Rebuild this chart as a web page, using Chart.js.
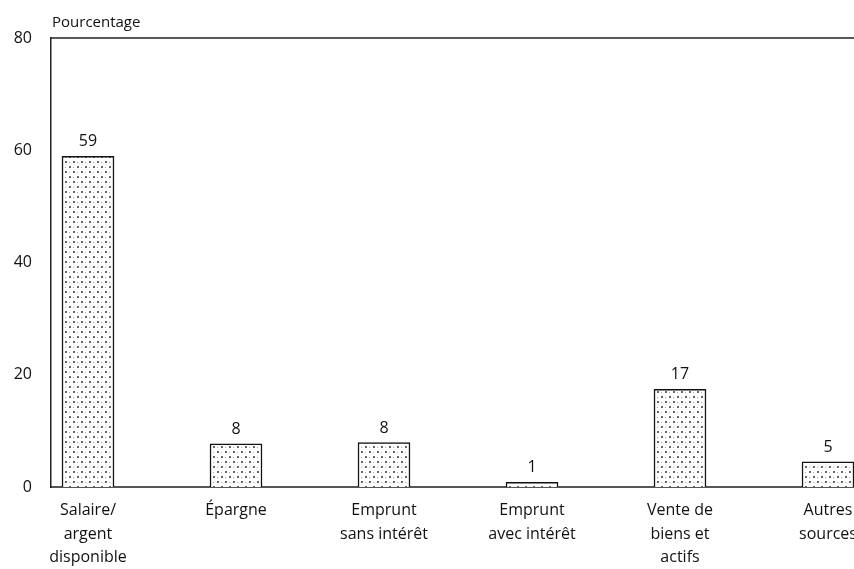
<!DOCTYPE html>
<html lang="fr">
<head>
  <meta charset="UTF-8" />
  <title>Pourcentage</title>
  <script src="https://cdn.jsdelivr.net/npm/chart.js"></script>
  <style>
    html, body {
      margin: 0;
      padding: 0;
      background: white;
      overflow: hidden;
    }
    .box {
      width: 900px;
      height: 569px;
    }
  </style>
</head>
<body>
  <div class="box">
    <canvas id="chart" width="900" height="569"></canvas>
  </div>

  <script>
    const categories = [
      ["Salaire/", "argent", "disponible"],
      ["Épargne"],
      ["Emprunt", "sans intérêt"],
      ["Emprunt", "avec intérêt"],
      ["Vente de", "biens et", "actifs"],
      ["Autres", "sources"]
    ];
    const values = [58.9, 7.7, 7.9, 0.85, 17.4, 4.5];
    const valueLabels = ["59", "8", "8", "1", "17", "5"];
    const yTicks = [0, 20, 40, 60, 80];

    const fontFamily = "'Open Sans', 'DejaVu Sans', sans-serif";

    // motif pointillé des barres (points décalés)
    function dotPattern() {
      const c = document.createElement("canvas");
      c.width = 8; c.height = 10;
      const g = c.getContext("2d");
      g.fillStyle = "white";
      g.fillRect(0, 0, 8, 10);
      g.fillStyle = "#666";
      g.fillRect(1, 1, 2, 2);
      g.fillRect(5, 6, 2, 2);
      g.fillStyle = "#aaa";
      g.fillRect(5, 2, 1, 1);
      g.fillRect(1, 7, 1, 1);
      return g.createPattern(c, "repeat");
    }

    const extras = {
      id: "extras",
      afterDraw(chart) {
        const ctx = chart.ctx;
        const area = chart.chartArea;
        ctx.save();
        // ligne du haut
        ctx.strokeStyle = "#222";
        ctx.lineWidth = 1.5;
        ctx.beginPath();
        ctx.moveTo(area.left, area.top);
        ctx.lineTo(area.right, area.top);
        ctx.stroke();
        // titre de l'axe
        ctx.fillStyle = "#111";
        ctx.font = "15px " + fontFamily;
        ctx.textAlign = "left";
        ctx.textBaseline = "alphabetic";
        ctx.fillText("Pourcentage", area.left + 1, area.top - 11);
        // étiquettes de valeur
        ctx.font = "16px " + fontFamily;
        ctx.textAlign = "center";
        chart.getDatasetMeta(0).data.forEach((bar, i) => {
          ctx.fillText(valueLabels[i], bar.x, bar.y - 10);
        });
        ctx.restore();
      }
    };

    const chart = new Chart(document.getElementById("chart").getContext("2d"), {
      type: "bar",
      data: {
        datasets: [{
          data: values.map((v, i) => ({ x: i, y: v })),
          backgroundColor: dotPattern(),
          borderColor: "#111",
          borderWidth: 1.5,
          barThickness: 52
        }]
      },
      options: {
        responsive: false,
        animation: false,
        layout: { padding: { top: 38, right: 35, left: 0, bottom: 0 } },
        plugins: {
          legend: { display: false },
          tooltip: { enabled: false }
        },
        scales: {
          x: {
            type: "linear",
            offset: false,
            min: -0.25,
            max: 5.25,
            afterBuildTicks: s => { s.ticks = categories.map((c, i) => ({ value: i })); },
            afterFit: s => { s.height = 82; },
            grid: { display: false, drawTicks: false },
            border: { display: true, color: "#555", width: 2 },
            ticks: {
              padding: 12,
              color: "#111",
              font: { family: fontFamily, size: 16, lineHeight: 1.47 },
              maxRotation: 0,
              autoSkip: false,
              callback: v => categories[v] || ""
            }
          },
          y: {
            min: 0,
            max: 80,
            afterBuildTicks: s => { s.ticks = yTicks.map(v => ({ value: v })); },
            afterFit: s => { s.width = 51; },
            grid: { display: false, drawTicks: false },
            border: { display: true, color: "#222", width: 1.5 },
            ticks: {
              padding: 19,
              color: "#111",
              font: { family: fontFamily, size: 16 }
            }
          }
        }
      },
      plugins: [extras]
    });
  </script>
</body>
</html>
